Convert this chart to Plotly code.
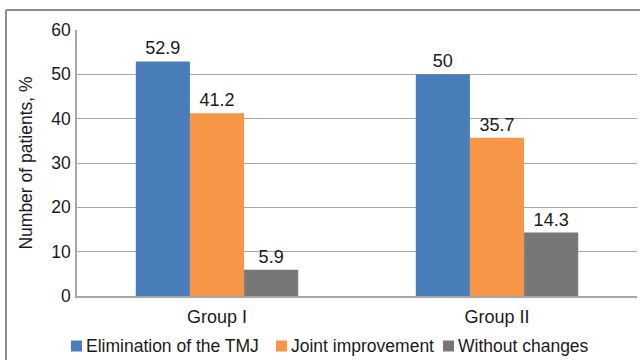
import plotly.graph_objects as go

# Treatment outcome by patient group, share of patients in %
groups = ["Group I", "Group II"]
series_names = ["Elimination of the TMJ", "Joint improvement", "Without changes"]
elimination = [52.9, 50]
improvement = [41.2, 35.7]
without_changes = [5.9, 14.3]
series_values = [elimination, improvement, without_changes]
colors = ["#4A7EBB", "#F79646", "#777777"]
y_ticks = [0, 10, 20, 30, 40, 50, 60]

FONT = "Liberation Sans, Arial, sans-serif"
TEXT = "#1a1a1a"

# plot area geometry in pixels (used for the hand-laid legend row)
W, H = 640, 360
ML, MR, MT, MB = 77, 3, 30, 64
PW, PH = W - ML - MR, H - MT - MB


def px_to_paper_x(px):
    return (px - ML) / PW


def px_to_paper_y(py):
    return (H - MB - py) / PH


fig = go.Figure()
for name, vals, col in zip(series_names, series_values, colors):
    fig.add_trace(go.Bar(
        name=name,
        x=groups,
        y=vals,
        marker=dict(color=col, line=dict(width=0)),
        text=[f"{v:g}" for v in vals],
        textposition="outside",
        textfont=dict(family=FONT, size=18, color=TEXT),
        constraintext="none",
        cliponaxis=False,
        showlegend=False,
    ))

# Legend row below the axis: a coloured square followed by the series name
legend_swatch_px = [71, 276, 443]
legend_y_px = 346
sw = 11
shapes = []
annotations = []
for name, col, sx in zip(series_names, colors, legend_swatch_px):
    shapes.append(dict(
        type="rect", xref="paper", yref="paper",
        x0=px_to_paper_x(sx), x1=px_to_paper_x(sx + sw),
        y0=px_to_paper_y(legend_y_px + sw / 2), y1=px_to_paper_y(legend_y_px - sw / 2),
        fillcolor=col, line=dict(width=0),
    ))
    annotations.append(dict(
        text=name, xref="paper", yref="paper",
        x=px_to_paper_x(sx + sw + 2), y=px_to_paper_y(legend_y_px),
        xanchor="left", yanchor="middle", showarrow=False,
        font=dict(family=FONT, size=17.5, color=TEXT),
    ))

# outer frame: top and left edges
shapes += [
    dict(type="line", xref="paper", yref="paper",
         x0=px_to_paper_x(6), x1=px_to_paper_x(660),
         y0=px_to_paper_y(10), y1=px_to_paper_y(10),
         line=dict(color="#8c8c8c", width=2)),
    dict(type="line", xref="paper", yref="paper",
         x0=px_to_paper_x(6), x1=px_to_paper_x(6),
         y0=px_to_paper_y(10), y1=px_to_paper_y(380),
         line=dict(color="#8c8c8c", width=2)),
]

fig.update_layout(
    width=W,
    height=H,
    margin=dict(l=ML, r=MR, t=MT, b=MB, autoexpand=False),
    paper_bgcolor="white",
    plot_bgcolor="white",
    barmode="group",
    bargap=0.42,
    bargroupgap=0,
    font=dict(family=FONT, size=17, color=TEXT),
    showlegend=False,
    xaxis=dict(
        showline=True,
        linecolor="#a6a6a6",
        linewidth=1.5,
        showgrid=False,
        ticks="",
        ticklabelstandoff=4,
        tickfont=dict(family=FONT, size=18, color=TEXT),
    ),
    yaxis=dict(
        range=[0, 60],
        tickvals=y_ticks,
        showline=True,
        linecolor="#a6a6a6",
        linewidth=1.5,
        showgrid=True,
        gridcolor="#a6a6a6",
        gridwidth=1,
        zeroline=False,
        ticks="",
        ticklabelstandoff=1,
        tickfont=dict(family=FONT, size=17.5, color=TEXT),
        title=dict(text="Number of patients, %", standoff=14,
                   font=dict(family=FONT, size=17.5, color=TEXT)),
    ),
    shapes=shapes,
    annotations=annotations,
)

fig.write_html("out.html")
